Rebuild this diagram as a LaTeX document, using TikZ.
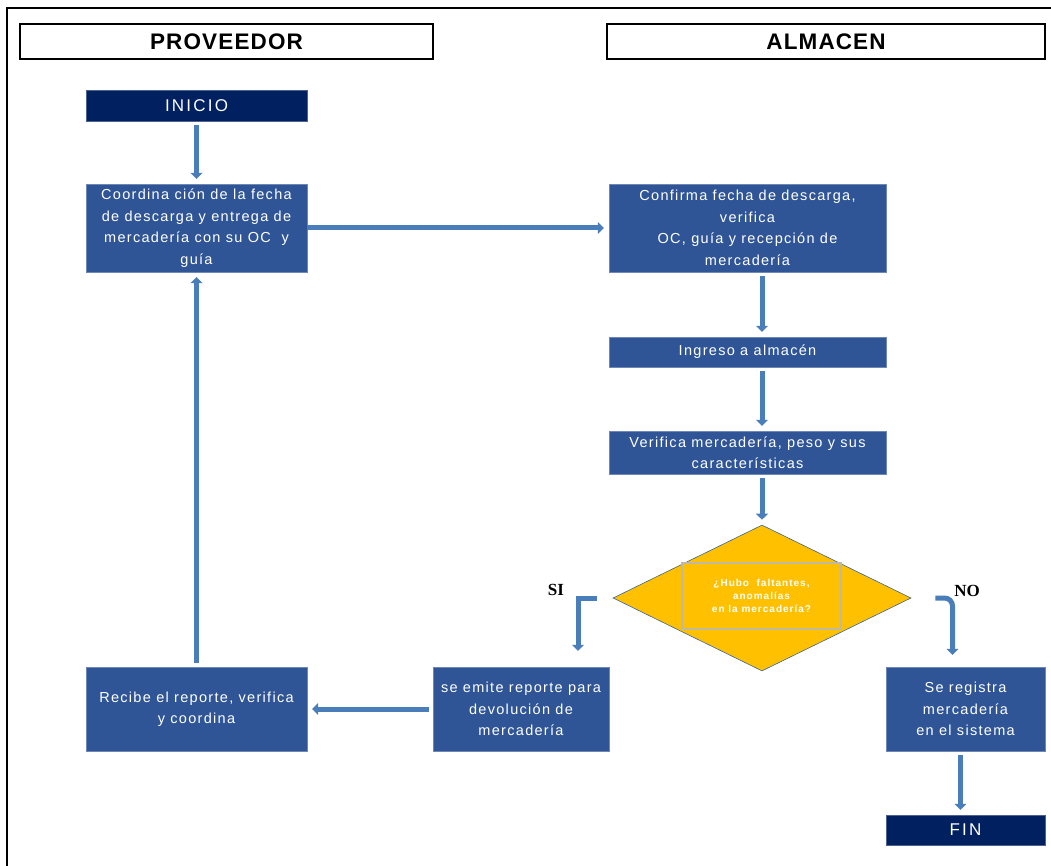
\documentclass[tikz,border=0pt]{standalone}
\usepackage{fontspec}
\setmainfont{Liberation Sans}
\newfontfamily\siserif{Liberation Serif}
\newfontfamily\cajafont[LetterSpace=9]{Liberation Sans}
\newfontfamily\extremofont[LetterSpace=13]{Liberation Sans}
\newfontfamily\carrilfont[LetterSpace=5]{Liberation Sans}
\newfontfamily\pregfont[LetterSpace=10]{Liberation Sans}
\usetikzlibrary{shapes.geometric,arrows.meta}
\definecolor{cajaazul}{RGB}{47,85,151}
\definecolor{marino}{RGB}{0,32,96}
\definecolor{flechaazul}{RGB}{74,126,187}
\definecolor{ambar}{RGB}{255,192,0}
\definecolor{grisclaro}{RGB}{190,185,165}
\tikzset{
  carril/.style={draw=black,line width=2pt,fill=white,font=\carrilfont\fontsize{22.5}{24}\selectfont\bfseries,inner sep=0pt},
  caja/.style={fill=cajaazul,draw=cajaazul!70!white,text=white,align=center,inner sep=0pt,
    font=\cajafont\fontsize{14.5}{21.5}\selectfont},
  extremo/.style={fill=marino,draw=marino!70!white,text=white,inner sep=0pt,
    font=\extremofont\fontsize{17}{20}\selectfont},
  flecha/.style={draw=flechaazul,line width=5pt,-{Triangle[width=12pt,length=6pt]},
    shorten <=4pt,shorten >=5pt},
}
\begin{document}
\begin{tikzpicture}[x=1pt,y=-1pt]
                    \useasboundingbox (0,0) rectangle (1051,866);
                    % marco
                    \draw[line width=2pt] (7,866)--(7,8)--(1051,8);

                    % carriles
                    \node[carril,minimum width=413pt,minimum height=35pt] (prov) at (226.5,41.5) {PROVEEDOR};
                    \node[carril,minimum width=438pt,minimum height=35pt] (alm) at (826,41.5) {ALMACEN};

                    % proveedor
                    \node[extremo,minimum width=221pt,minimum height=31pt] (inicio) at (196.5,105.5) {INICIO};
                    \node[caja,minimum width=221pt,minimum height=88pt] (coord) at (196.5,228)
                       {Coordina ción de la fecha\\de descarga y entrega de\\mercadería con su OC\ \ y\\guía};
                    \node[caja,minimum width=221pt,minimum height=84pt] (recibe) at (196.5,709)
                       {Recibe el reporte, verifica\\y coordina};

                    % almacen
                    \node[caja,minimum width=277pt,minimum height=88pt] (conf) at (747.5,228)
                       {Confirma fecha de descarga,\\verifica\\OC, guía y recepción de\\mercadería};
                    \node[caja,minimum width=277pt,minimum height=30pt] (ingreso) at (747.5,352) {Ingreso a almacén};
                    \node[caja,minimum width=277pt,minimum height=43pt] (verif) at (747.5,452.5)
                       {Verifica mercadería, peso y sus\\características};
                    \node[diamond,fill=ambar,draw=flechaazul!80!black,line width=0.6pt,inner sep=0pt,
                       minimum width=298pt,minimum height=146pt] (dia) at (762,598) {};
                    \node[draw=grisclaro,line width=1.5pt,minimum width=159pt,minimum height=66pt,inner sep=0pt,
                       text=white,align=center,font=\pregfont\fontsize{10}{13}\selectfont\bfseries] (preg) at (761.5,596)
                       {¿Hubo\ \ faltantes,\\anomalías\\en la mercadería?};
                    \node[caja,minimum width=176pt,minimum height=84pt] (emite) at (521,709)
                       {se emite reporte para\\devolución de\\mercadería};
                    \node[caja,minimum width=159pt,minimum height=84pt] (registra) at (965.5,709)
                       {Se registra\\mercadería\\en el sistema};
                    \node[extremo,minimum width=159pt,minimum height=30pt] (fin) at (965.5,830) {FIN};
                    \node[font=\siserif\fontsize{17}{18}\selectfont\bfseries] (si) at (556,590) {SI};
                    \node[font=\siserif\fontsize{17}{18}\selectfont\bfseries] (no) at (967,591) {NO};

                    % flechas
                    \draw[flecha] (inicio)--(coord);
                    \draw[flecha,shorten <=0pt] (coord)--(conf);
                    \draw[flecha] (conf.south -| dia)--(ingreso.north -| dia);
                    \draw[flecha] (ingreso.south -| dia)--(verif.north -| dia);
                    \draw[flecha] (verif.south -| dia)--(dia.north);
                    \draw[flecha,shorten <=16pt,shorten >=16pt] (dia.west) -| ([xshift=57pt]emite.north);
                    \draw[flecha,shorten <=24pt,shorten >=12pt,rounded corners=8pt] (dia.east) -| ([xshift=-13pt]registra.north);
                    \draw[flecha] (emite)--(recibe);
                    \draw[flecha] (recibe)--(coord);
                    \draw[flecha] ([xshift=-5pt]registra.south)--([xshift=-5pt]fin.north);

                  \end{tikzpicture}
\end{document}
